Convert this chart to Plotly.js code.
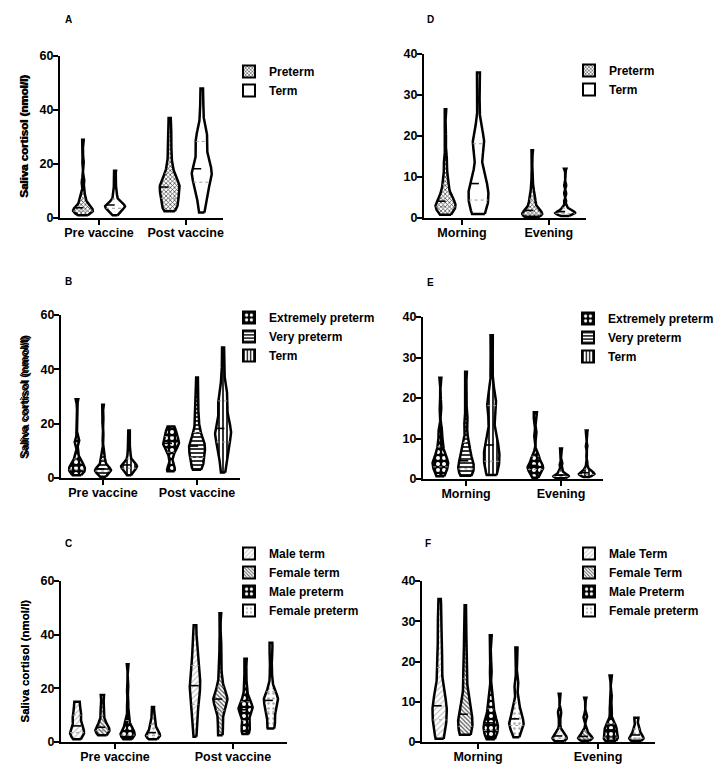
<!DOCTYPE html>
<html><head><meta charset="utf-8">
<script src="https://cdn.plot.ly/plotly-3.0.1.min.js"></script>
<style>html,body{margin:0;padding:0;background:#fff}#plot{width:726px;height:779px}
g.traces{opacity:1 !important}</style>
</head><body><div id="plot"></div>
<script>
// ---------------- DATA ----------------
const groupsVaccine = ['Pre vaccine', 'Post vaccine'];
const groupsTime = ['Morning', 'Evening'];
const ticksY60 = [0, 20, 40, 60];
const ticksY40 = [0, 10, 20, 30, 40];
const yTitle = 'Saliva cortisol (nmol/l)';

// Panel A
const seriesA = ['Preterm', 'Term'];
const A_preterm_pre = [1,1.2,1.5,1.8,2,2.1,2.3,2.5,2.6,2.8,3,3,3.2,3.4,3.6,3.8,4,4.3,4.6,5,5.5,6,6.5,7,8,9,10,13,14,21,29];
const A_preterm_post = [2.5,3,3.5,4,4.5,5,5.5,6,7,7.5,8,8.5,9,9.5,10,10.5,11,11.5,12,12.5,12.5,13,13.5,14,15,16,17,18,20,22,25,28,30,33,37];
const A_term_pre = [1,1.5,2,2.5,3,3,3.3,3.6,3.8,4,4,4.2,4.4,4.6,4.8,5,5,5.3,5.6,6,6.5,7,8,9,10,11,13,15,17.5];
const A_term_post = [2,3,5,7,9,10,11,12,13,14,15,15.5,16,16.5,17,17.5,18,18.5,19,20,21,22,24,27,28,28.5,29,29.5,30,32,35,39,44,48];

// Panel D
const seriesD = ['Preterm', 'Term'];
const D_preterm_morning = [0.8,1,1.2,1.5,1.8,2,2.2,2.5,2.8,3,3,3.2,3.5,3.8,4,4,4.2,4.5,5,5.5,6,6.5,7,8,9,9.5,10,12,14,14.5,19,26.5];
const D_preterm_evening = [0.3,0.4,0.5,0.6,0.7,0.8,0.9,1,1,1.1,1.2,1.3,1.5,1.7,2,2.3,2.6,3,3.5,4,4.5,5,5.5,6,7,9,11,16.5];
const D_term_morning = [1,1.5,2,2.5,3,3.5,4,4.5,5,6,7,7.5,8,8.3,8.5,9,10,12,17,17.5,18,18.5,19,19.5,21,27,33,35.5];
const D_term_evening = [0.5,0.7,0.8,0.9,1,1.1,1.2,1.3,1.3,1.4,1.5,1.6,1.7,1.8,2,2.2,2.5,3,4,6,8,12];

// Panel B
const seriesB = ['Extremely preterm', 'Very preterm', 'Term'];
const B_extreme_pre = [1,1.5,2,2.5,3,3.2,3.5,4,4.5,5,5.5,6,7,9,13,14,29];
const B_extreme_post = [2.5,3,4,8,10,11,12,12.5,13,13.5,14,15,16,17,18,19];
const B_very_pre = [0.5,1,1.5,2,2.2,2.5,2.7,2.8,3,3,3.2,3.5,4,4.5,5,6,7,8,10,15,21,27];
const B_very_post = [3,3.5,4,4.5,5,5.5,6,7,7.5,8,8.5,9,9.5,10,10.5,11,11.5,12,12.5,12.5,13,13.5,14,15,16,17,18,20,22,25,28,30,33,37];
const B_term_pre = [1,1.5,2,2.5,3,3,3.3,3.6,3.8,4,4,4.2,4.4,4.6,4.8,5,5,5.3,5.6,6,6.5,7,8,9,10,11,13,15,17.5];
const B_term_post = [2,3,5,7,9,10,11,12,13,14,15,15.5,16,16.5,17,17.5,18,18.5,19,20,21,22,24,27,28,28.5,29,29.5,30,32,35,39,44,48];

// Panel E
const seriesE = ['Extremely preterm', 'Very preterm', 'Term'];
const E_extreme_morning = [0.7,1,1.5,2,2.5,3,3.5,3.8,4,4.2,4.5,5,5.5,6,7,8,9,11,12,18,25];
const E_extreme_evening = [0.3,1,1.5,2,2.5,2.8,3,3.2,3.5,4,5,5.5,6,11,15,16.5];
const E_very_morning = [0.8,1,1.3,1.6,2,2.5,3,3.5,4,4,4.5,5,6,7,8,9,9.5,14,14.5,20,26.5];
const E_very_evening = [0.2,0.3,0.4,0.5,0.6,0.7,0.7,0.8,0.9,1,1.1,1.3,1.6,2,2.5,3.5,4,7.5];
const E_term_morning = [1,1.5,2,2.5,3,3.5,4,4.5,5,6,7,7.5,8,8.3,8.5,9,10,12,17,17.5,18,18.5,19,19.5,21,27,33,35.5];
const E_term_evening = [0.5,0.7,0.8,0.9,1,1.1,1.2,1.3,1.3,1.4,1.5,1.6,1.7,1.8,2,2.2,2.5,3,4,6,8,12];

// Panel C
const seriesC = ['Male term', 'Female term', 'Male preterm', 'Female preterm'];
const C_maleTerm_pre = [1,2,2.5,3,3.5,4,4.5,5,6,7,9,9.5,10,11,13,14.5,15];
const C_maleTerm_post = [2,5,8,11,12.5,14,17,19,20,21,21,22,23,25,27,28.5,30,32,35,41,43.5];
const C_femaleTerm_pre = [2.5,3,3.5,4,4.2,4.5,4.8,5,5.5,6,7,8,10,12.5,13,17,17.5];
const C_femaleTerm_post = [2.5,3,5,7,9,11,12,13,14,15,15.5,16,16,16.5,17,18,19,20,22,24,28,33,38,48];
const C_malePreterm_pre = [1,1.5,2,2.3,2.6,3,3.2,3.5,4,4.5,5,6,8,9,14,20,29];
const C_malePreterm_post = [3,4,5,6,8,10,11,12,12,13,13.5,14,15,17,20,25,31];
const C_femalePreterm_pre = [1,1.5,2,2.2,2.5,2.8,3,3.5,4,5,6,7,8,10,13];
const C_femalePreterm_post = [5,6,7,9,11,12,13,14,15,16,16,17,18,19,22,27,33,37];

// Panel F
const seriesF = ['Male Term', 'Female Term', 'Male Preterm', 'Female preterm'];
const F_maleTerm_morning = [0.8,1.5,2,3,4,5,6,7,8,8.5,8.7,9,10,11,12,14,17,20,22,23,30,31,35.5];
const F_maleTerm_evening = [0.2,0.4,0.6,0.8,1,1,1.2,1.4,1.6,2,2.5,3,5,7,7.5,12];
const F_femaleTerm_morning = [1.8,2,2.2,2.5,3,3.5,4,4.5,5,6,6.5,6.8,7,8,9,10,12,15,18,19,20,24,28,34];
const F_femaleTerm_evening = [0.3,0.5,0.7,0.9,1,1.1,1.2,1.4,1.7,2,2.5,3,6,6.5,11];
const F_malePreterm_morning = [0.7,1,1.5,2,2.5,3,3.5,4,4,4.5,5,5.5,6,7,8,9,10,13,18,26.5];
const F_malePreterm_evening = [0.3,0.5,0.8,1,1.2,1.5,2,2.5,3,3.3,3.6,4,4.5,5.5,8,11,16.5];
const F_femalePreterm_morning = [1.2,2,3,3.5,4,4.5,5,5,5.5,6,7,8,9,10,14,14.5,20,23.5];
const F_femalePreterm_evening = [0.3,0.5,0.7,0.9,1,1.2,1.5,2,2.5,3,3.3,4,5.5,6];

// ---------------- STYLES ----------------
const FONT = 'Liberation Sans, Arial, Helvetica, sans-serif';
const PAT = {
  mesh:      {shape:'x', fgcolor:'#333333', bgcolor:'#ffffff', size:3, solidity:0.4},
  plain:     null,
  checker:   {shape:'.', fgcolor:'#ffffff', bgcolor:'#000000', size:6, solidity:0.35},
  hlines:    {shape:'-', fgcolor:'#000000', bgcolor:'#ffffff', size:4, solidity:0.4},
  vlines:    {shape:'|', fgcolor:'#000000', bgcolor:'#ffffff', size:4, solidity:0.4},
  fwd:       {shape:'/', fgcolor:'#c4c4c4', bgcolor:'#ffffff', size:4, solidity:0.3},
  back:      {shape:'\\', fgcolor:'#555555', bgcolor:'#ffffff', size:3, solidity:0.4},
  lightdots: {shape:'.', fgcolor:'#aaaaaa', bgcolor:'#ffffff', size:5, solidity:0.2}
};

const panels = [
  {letter:'A', n:1, groups:groupsVaccine, series:seriesA, ticks:ticksY60, yr:[0,60],
   data:[[A_preterm_pre, A_preterm_post],[A_term_pre, A_term_post]],
   pats:['mesh','plain'], xpx:[60,223], ypx:[56,218], xr:[-0.45,1.43], off:[-0.185,0.185], hw:0.115,
   legXY:[229,57], letterXY:[68,20]},
  {letter:'D', n:2, groups:groupsTime, series:seriesD, ticks:ticksY40, yr:[0,40],
   data:[[D_preterm_morning, D_preterm_evening],[D_term_morning, D_term_evening]],
   pats:['mesh','plain'], xpx:[424,586], ypx:[54,218], xr:[-0.438,1.43], off:[-0.19,0.19], hw:0.115,
   legXY:[569,56], letterXY:[431,19]},
  {letter:'B', n:3, groups:groupsVaccine, series:seriesB, ticks:ticksY60, yr:[0,60],
   data:[[B_extreme_pre, B_extreme_post],[B_very_pre, B_very_post],[B_term_pre, B_term_post]],
   pats:['checker','hlines','vlines'], xpx:[61,240], ypx:[315,478], xr:[-0.447,1.457], off:[-0.277,0,0.277], hw:0.085,
   legXY:[229,303], letterXY:[68,281]},
  {letter:'E', n:4, groups:groupsTime, series:seriesE, ticks:ticksY40, yr:[0,40],
   data:[[E_extreme_morning, E_extreme_evening],[E_very_morning, E_very_evening],[E_term_morning, E_term_evening]],
   pats:['checker','hlines','vlines'], xpx:[423,603], ypx:[317,479], xr:[-0.453,1.442], off:[-0.27,0,0.27], hw:0.082,
   legXY:[568,304], letterXY:[430,282]},
  {letter:'C', n:5, groups:groupsVaccine, series:seriesC, ticks:ticksY60, yr:[0,60],
   data:[[C_maleTerm_pre, C_maleTerm_post],[C_femaleTerm_pre, C_femaleTerm_post],[C_malePreterm_pre, C_malePreterm_post],[C_femalePreterm_pre, C_femalePreterm_post]],
   pats:['fwd','back','checker','lightdots'], xpx:[61,287], ypx:[581,742], xr:[-0.458,1.458], off:[-0.322,-0.107,0.107,0.322], hw:0.06,
   wscale:{'0,1':0.75},
   legXY:[229,539], letterXY:[68,543]},
  {letter:'F', n:6, groups:groupsTime, series:seriesF, ticks:ticksY40, yr:[0,40],
   data:[[F_maleTerm_morning, F_maleTerm_evening],[F_femaleTerm_morning, F_femaleTerm_evening],[F_malePreterm_morning, F_malePreterm_evening],[F_femalePreterm_morning, F_femalePreterm_evening]],
   pats:['fwd','back','checker','lightdots'], xpx:[422,655], ypx:[581,742], xr:[-0.467,1.475], off:[-0.32,-0.106,0.106,0.32], hw:0.06,
   legXY:[569,539], letterXY:[428,543]}
];

// ---------------- HELPERS ----------------
const W = 726, H = 779;
function quantile(sorted, p){
  const pos = (sorted.length - 1) * p, lo = Math.floor(pos), hi = Math.ceil(pos);
  return sorted[lo] + (sorted[hi] - sorted[lo]) * (pos - lo);
}
function kde(vals){
  const s = vals.slice().sort((a,b)=>a-b), n = s.length;
  const mean = s.reduce((a,b)=>a+b,0)/n;
  const sd = Math.sqrt(s.reduce((a,b)=>a+(b-mean)*(b-mean),0)/(n-1));
  const iqr = quantile(s,0.75) - quantile(s,0.25);
  let h = 0.68 * 0.9 * Math.min(sd, iqr/1.34 || sd) * Math.pow(n, -0.2);
  const lo = s[0], hi = s[n-1], N = 160;
  const ys = [], ds = [];
  for (let i = 0; i <= N; i++){
    const y = lo + (hi - lo) * i / N;
    let d = 0;
    for (const v of s){ const z = (y - v)/h; d += Math.exp(-0.5*z*z); }
    ys.push(y); ds.push(d);
  }
  const mx = Math.max(...ds);
  return {s, ys, ds: ds.map(d => d/mx)};
}
function widthAt(k, y){
  const {ys, ds} = k;
  if (y <= ys[0]) return ds[0];
  for (let i = 1; i < ys.length; i++){
    if (y <= ys[i]){ const t = (y - ys[i-1])/(ys[i]-ys[i-1]); return ds[i-1] + t*(ds[i]-ds[i-1]); }
  }
  return ds[ds.length-1];
}

const traces = [];
const layout = {
  width: W, height: H, margin:{l:0,r:0,t:0,b:0},
  paper_bgcolor:'#ffffff', plot_bgcolor:'#ffffff',
  font:{family:FONT, color:'#000'}, showlegend:true, annotations:[]
};

panels.forEach(p => {
  const xa = p.n === 1 ? 'x' : 'x' + p.n, ya = p.n === 1 ? 'y' : 'y' + p.n;
  const xk = p.n === 1 ? 'xaxis' : 'xaxis' + p.n, yk = p.n === 1 ? 'yaxis' : 'yaxis' + p.n;
  const lk = p.n === 1 ? 'legend' : 'legend' + p.n;
  const common = {showline:true, linewidth:2, linecolor:'#000', ticks:'outside', ticklen:5, tickwidth:2, tickcolor:'#000',
    showgrid:false, zeroline:false, fixedrange:true, tickfont:{family:FONT, size:12.5, weight:'bold', color:'#000'}};
  layout[xk] = Object.assign({}, common, {domain:[p.xpx[0]/W, p.xpx[1]/W], range:p.xr, anchor:ya, type:'linear',
    tickmode:'array', tickvals:p.groups.map((g,i)=>i), ticktext:p.groups, ticklabelstandoff:-3});
  layout[yk] = Object.assign({}, common, {domain:[1 - p.ypx[1]/H, 1 - p.ypx[0]/H], range:p.yr, anchor:xa, type:'linear',
    tickmode:'array', tickvals:p.ticks, ticklabelstandoff:-3});
  layout[lk] = {x:p.legXY[0]/W, y:1 - p.legXY[1]/H, xanchor:'left', yanchor:'top', bgcolor:'rgba(0,0,0,0)',
    font:{family:FONT, size:12, weight:'bold', color:'#000'}, traceorder:'normal', itemclick:false, itemdoubleclick:false};
  layout.annotations.push({xref:'paper', yref:'paper', x:24/W, y:1 - (p.ypx[0]+p.ypx[1])/2/H, text:yTitle, textangle:-90,
    showarrow:false, xanchor:'center', yanchor:'middle', font:{family:FONT, size:11.5, weight:'bold', color:'#000'}});
  layout.annotations.push({xref:'paper', yref:'paper', x:p.letterXY[0]/W, y:1 - p.letterXY[1]/H, text:p.letter,
    showarrow:false, xanchor:'center', yanchor:'middle', font:{family:FONT, size:10, weight:'bold', color:'#000'}});

  p.series.forEach((name, si) => {
    const pat = PAT[p.pats[si]];
    const medians = p.data[si].map(v => quantile(v.slice().sort((a,b)=>a-b), 0.5));
    // legend swatch (legend only, not drawn on the axes)
    const bar = {type:'bar', x:p.groups.map((g,i)=>i + p.off[si]), y:medians, name:name, xaxis:xa, yaxis:ya, legend:lk,
      showlegend:true, visible:'legendonly',
      marker:{color: pat ? pat.bgcolor : '#ffffff', line:{color:'#000', width:2}}};
    if (pat) bar.marker.pattern = Object.assign({}, pat, {fillmode:'replace'});
    traces.push(bar);
    p.groups.forEach((g, gi) => {
      const vals = p.data[si][gi];
      const k = kde(vals);
      const c = gi + p.off[si];
      const hw = p.hw * ((p.wscale && p.wscale[si + ',' + gi]) || 1);
      const xs = [], yy = [];
      for (let i = 0; i < k.ys.length; i++){ xs.push(c + hw*k.ds[i]); yy.push(k.ys[i]); }
      for (let i = k.ys.length - 1; i >= 0; i--){ xs.push(c - hw*k.ds[i]); yy.push(k.ys[i]); }
      xs.push(xs[0]); yy.push(yy[0]);
      const tr = {type:'scatter', mode:'lines', x:xs, y:yy, xaxis:xa, yaxis:ya, fill:'toself',
        fillcolor: pat ? pat.bgcolor : '#ffffff', line:{color:'#000', width:2.5}, showlegend:false, hoverinfo:'skip', legend:lk};
      if (pat) tr.fillpattern = Object.assign({}, pat, {fillmode:'replace'});
      traces.push(tr);
      const q1 = quantile(k.s, 0.25), med = quantile(k.s, 0.5), q3 = quantile(k.s, 0.75);
      [[q1,'#9a9a9a',1,'dot'],[q3,'#9a9a9a',1,'dot'],[med,'#000',1.6,'dash']].forEach(([q, col, lw, dash]) => {
        const w = hw * widthAt(k, q);
        traces.push({type:'scatter', mode:'lines', x:[c - w, c + w], y:[q, q], xaxis:xa, yaxis:ya,
          line:{color:col, width:lw, dash:dash}, showlegend:false, hoverinfo:'skip', legend:lk});
      });
    });
  });
});

Plotly.newPlot('plot', traces, layout, {displayModeBar:false, staticPlot:true});
</script></body></html>
